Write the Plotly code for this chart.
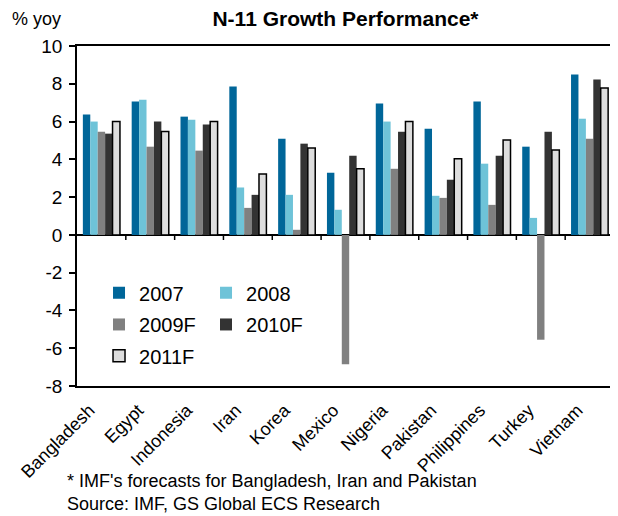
import plotly.graph_objects as go

countries = ["Bangladesh", "Egypt", "Indonesia", "Iran", "Korea", "Mexico",
             "Nigeria", "Pakistan", "Philippines", "Turkey", "Vietnam"]
y2007 = [6.37, 7.06, 6.26, 7.85, 5.09, 3.29, 6.95, 5.62, 7.06, 4.67, 8.49]
y2008 = [6.0, 7.16, 6.1, 2.51, 2.12, 1.33, 6.0, 2.07, 3.77, 0.9, 6.15]
y2009F = [5.46, 4.67, 4.46, 1.43, 0.27, -6.85, 3.5, 1.96, 1.59, -5.55, 5.09]
y2010F = [5.36, 6.0, 5.84, 2.12, 4.83, 4.19, 5.46, 2.92, 4.19, 5.46, 8.22]
y2011F = [6.0, 5.48, 6.0, 3.22, 4.6, 3.5, 6.0, 4.03, 5.02, 4.49, 7.78]
ytick_vals = [-8, -6, -4, -2, 0, 2, 4, 6, 8, 10]
ytick_text = ["-8", "-6", "-4", "-2", "0", "2", "4", "6", "8", "10"]

FONT = "Liberation Sans, Arial, sans-serif"

series = [
    ("2007", y2007, "#006699", "legend"),
    ("2008", y2008, "#6EC3D8", "legend"),
    ("2009F", y2009F, "#808080", "legend2"),
    ("2010F", y2010F, "#333333", "legend2"),
    ("2011F", y2011F, "#DDDDDD", "legend3"),
]

fig = go.Figure()
for name, vals, color, leg in series:
    lw = 1.5 if name == "2011F" else 0
    fig.add_trace(go.Bar(
        x=countries, y=vals, name=name, legend=leg,
        marker=dict(color=color, line=dict(color="black", width=lw)),
    ))

# small ticks below the zero line at category boundaries
shapes = []
for i in range(len(countries) - 1):
    shapes.append(dict(type="line", xref="x", yref="y", x0=i + 0.5, x1=i + 0.5,
                       y0=0, y1=-0.27, line=dict(color="black", width=1.5)))

leg_common = dict(orientation="h", xanchor="left", yanchor="middle",
                  font=dict(family=FONT, size=20, color="black"),
                  bgcolor="rgba(0,0,0,0)", entrywidth=62, itemwidth=30,
                  traceorder="normal")

fig.update_layout(
    width=610, height=508,
    margin=dict(l=69, r=2, t=38, b=130),
    paper_bgcolor="white", plot_bgcolor="white",
    barmode="group", bargap=0.24, bargroupgap=0,
    font=dict(family=FONT, size=17, color="black"),
    title=dict(text="<b>N-11 Growth Performance*</b>", x=0.5, xref="paper",
               xanchor="center", y=1, yref="container", yanchor="top",
               pad=dict(t=3, b=0, l=0, r=0),
               font=dict(family=FONT, size=21, color="black")),
    xaxis=dict(showline=True, mirror=True, linecolor="black", linewidth=1.5,
               ticks="", tickangle=-45, tickfont=dict(family=FONT, size=18),
               ticklabelshift=-12, ticklabelstandoff=5,
               showgrid=False, range=[-0.5, len(countries) - 0.5]),
    yaxis=dict(range=[-8, 10], tickvals=ytick_vals, ticktext=ytick_text,
               showline=True, mirror=True,
               linecolor="black", linewidth=1.5, ticks="outside", ticklen=6,
               tickwidth=1.5, tickcolor="black", showgrid=False,
               zeroline=True, zerolinecolor="black", zerolinewidth=1.5,
               ticklabelstandoff=3,
               tickfont=dict(family=FONT, size=19)),
    legend=dict(x=0.041, y=0.274, **leg_common),
    legend2=dict(x=0.041, y=0.181, **leg_common),
    legend3=dict(x=0.041, y=0.089, **leg_common),
    shapes=shapes,
    annotations=[
        dict(text="% yoy", xref="paper", yref="paper", x=-0.076, y=1.08,
             xanchor="center", yanchor="middle", showarrow=False,
             font=dict(family=FONT, size=18)),
        dict(text="* IMF's forecasts for Bangladesh, Iran and Pakistan",
             xref="paper", yref="paper", x=-0.022, y=-0.278, xanchor="left",
             yanchor="middle", showarrow=False, font=dict(family=FONT, size=18)),
        dict(text="Source: IMF, GS Global ECS Research",
             xref="paper", yref="paper", x=-0.022, y=-0.348, xanchor="left",
             yanchor="middle", showarrow=False, font=dict(family=FONT, size=18)),
    ],
)

fig.write_html("out.html")
